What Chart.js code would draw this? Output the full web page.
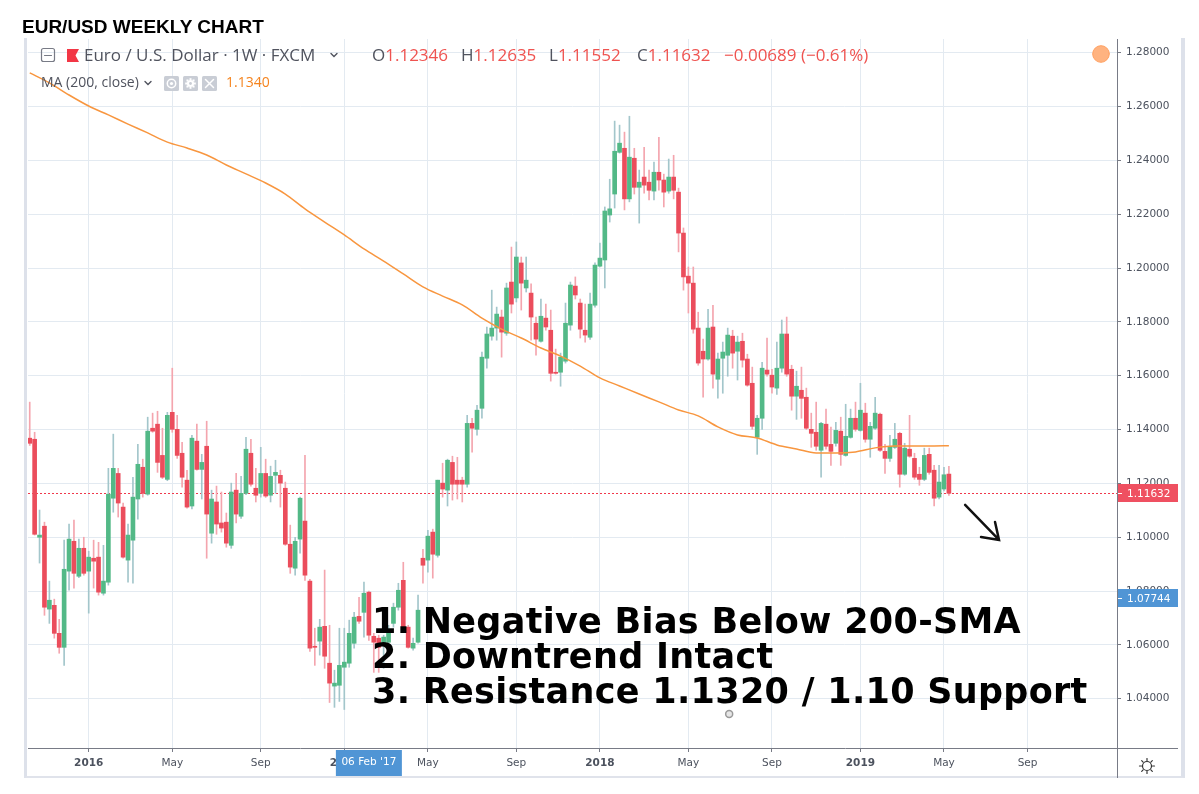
<!DOCTYPE html>
<html>
<head>
<meta charset="utf-8">
<script src="https://cdn.jsdelivr.net/npm/chart.js@4.4.0/dist/chart.umd.min.js"></script>
<style>
  body { margin: 0; width: 1199px; height: 794px; overflow: hidden; position: relative; background: #fff; }
  #frame { position: absolute; left: 24px; top: 38px; width: 1154px; height: 738px;
           border-left: 3px solid #dde1ea; border-right: 4px solid #dde1ea; border-bottom: 2px solid #e0e3eb; box-sizing: content-box; }
  #chart { position: absolute; left: 0; top: 0; }
  .t { position: absolute; white-space: pre; }
  #title { left: 22px; top: 17px; font: bold 19px/19px "Liberation Sans", Arial, sans-serif; color: #000; }
  .leg1 { top: 45px; font: 17px/20px "Open Sans", sans-serif; color: #50535e; }
  .leg2 { top: 74px; font: 14px/16px "Open Sans", sans-serif; color: #50535e; }
  .red { color: #ef5350; }
  #notes { left: 372px; top: 604px; font: bold 35px/35px "DejaVu Sans", sans-serif; color: #000; letter-spacing: 0.3px; }
</style>
</head>
<body>
<div id="frame"></div>
<canvas id="chart" width="1199" height="794"></canvas>
<div id="title" class="t">EUR/USD WEEKLY CHART</div>
<div class="t leg1" style="left:84px">Euro / U.S. Dollar · 1W · FXCM</div>
<div class="t leg1" id="lo" style="left:372px"></div>
<div class="t leg1" id="lh" style="left:461px"></div>
<div class="t leg1" id="ll" style="left:549px"></div>
<div class="t leg1" id="lc" style="left:637px"></div>
<div class="t leg1 red" id="lchg" style="left:724px"></div>
<div class="t leg2" style="left:41px">MA (200, close)</div>
<div class="t leg2" id="lma" style="left:226px;color:#f5841f"></div>
<div class="t" id="notes">1. Negative Bias Below 200-SMA
2. Downtrend Intact
3. Resistance 1.1320 / 1.10 Support</div>
<script>
// weekly EUR/USD candles, Oct 12 2015 .. May 13 2019
const opens = [
  1.1368, 1.1364, 1.1000, 1.1041, 1.0733, 1.0747, 1.0643, 1.0591, 1.0874, 1.0985,
  1.0855, 1.0959, 1.0874, 1.0922, 1.0926, 1.0792, 1.0833, 1.1145, 1.1237, 1.1112,
  1.0915, 1.0989, 1.1142, 1.1260, 1.1160, 1.1405, 1.1420, 1.1304, 1.1215, 1.1464,
  1.1401, 1.1312, 1.1212, 1.1116, 1.1357, 1.1252, 1.1338, 1.1015, 1.1131, 1.1053,
  1.1056, 1.0970, 1.1175, 1.1078, 1.1163, 1.1312, 1.1182, 1.1163, 1.1237, 1.1156,
  1.1230, 1.1230, 1.1182, 1.0974, 1.0885, 1.0993, 1.1060, 1.0837, 1.0595, 1.0614,
  1.0669, 1.0532, 1.0447, 1.0450, 1.0517, 1.0532, 1.0606, 1.0706, 1.0721, 1.0796,
  1.0632, 1.0625, 1.0606, 1.0610, 1.0680, 1.0740, 1.0840, 1.0666, 1.0588, 1.0610,
  1.0922, 1.0915, 1.1019, 1.0933, 1.1201, 1.1175, 1.1278, 1.1212, 1.1212, 1.1197,
  1.1423, 1.1401, 1.1479, 1.1665, 1.1747, 1.1777, 1.1818, 1.1758, 1.1948, 1.1889,
  1.2019, 1.1926, 1.1907, 1.1795, 1.1728, 1.1814, 1.1769, 1.1613, 1.1613, 1.1654,
  1.1788, 1.1933, 1.1870, 1.1769, 1.1743, 1.1862, 1.2007, 1.2030, 1.2197, 1.2275,
  1.2430, 1.2445, 1.2257, 1.2408, 1.2300, 1.2338, 1.2319, 1.2286, 1.2356, 1.2327,
  1.2286, 1.2338, 1.2282, 1.2130, 1.1970, 1.1944, 1.1777, 1.1691, 1.1662, 1.1781,
  1.1587, 1.1665, 1.1676, 1.1747, 1.1691, 1.1728, 1.1662, 1.1572, 1.1371, 1.1442,
  1.1621, 1.1602, 1.1554, 1.1628, 1.1755, 1.1624, 1.1524, 1.1546, 1.1520, 1.1401,
  1.1390, 1.1323, 1.1420, 1.1345, 1.1349, 1.1394, 1.1304, 1.1371, 1.1442, 1.1397,
  1.1461, 1.1364, 1.1405, 1.1457, 1.1319, 1.1293, 1.1334, 1.1386, 1.1234, 1.1327,
  1.1293, 1.1234, 1.1215, 1.1308, 1.1249, 1.1149, 1.1179, 1.12346
];
const highs = [
  1.1502, 1.1390, 1.1101, 1.1056, 1.0837, 1.0770, 1.0695, 1.0989, 1.1049, 1.1064,
  1.0993, 1.1000, 1.0948, 1.0989, 1.0981, 1.0970, 1.1256, 1.1383, 1.1256, 1.1127,
  1.1049, 1.1223, 1.1345, 1.1290, 1.1446, 1.1461, 1.1468, 1.1405, 1.1464, 1.1628,
  1.1453, 1.1353, 1.1249, 1.1379, 1.1420, 1.1308, 1.1431, 1.1175, 1.1190, 1.1168,
  1.1090, 1.1201, 1.1237, 1.1226, 1.1371, 1.1364, 1.1256, 1.1334, 1.1290, 1.1264,
  1.1286, 1.1249, 1.1205, 1.1045, 1.1000, 1.1149, 1.1304, 1.0844, 1.0662, 1.0695,
  1.0878, 1.0673, 1.0506, 1.0662, 1.0662, 1.0692, 1.0721, 1.0777, 1.0833, 1.0800,
  1.0643, 1.0636, 1.0636, 1.0673, 1.0755, 1.0829, 1.0907, 1.0673, 1.0625, 1.0785,
  1.0955, 1.1026, 1.1030, 1.1212, 1.1275, 1.1290, 1.1301, 1.1297, 1.1223, 1.1453,
  1.1442, 1.1490, 1.1688, 1.1781, 1.1918, 1.1855, 1.1844, 1.1944, 1.2078, 1.2097,
  1.2041, 1.2041, 1.1941, 1.1818, 1.1885, 1.1866, 1.1844, 1.1699, 1.1684, 1.1870,
  1.1948, 1.1967, 1.1885, 1.1866, 1.1907, 1.2019, 1.2093, 1.2227, 1.2330, 1.2546,
  1.2531, 1.2505, 1.2564, 1.2445, 1.2364, 1.2449, 1.2364, 1.2394, 1.2486, 1.2349,
  1.2405, 1.2419, 1.2297, 1.2149, 1.2004, 1.2004, 1.1836, 1.1736, 1.1847, 1.1862,
  1.1684, 1.1725, 1.1777, 1.1769, 1.1747, 1.1758, 1.1680, 1.1632, 1.1453, 1.1650,
  1.1740, 1.1624, 1.1725, 1.1807, 1.1818, 1.1639, 1.1617, 1.1632, 1.1554, 1.1461,
  1.1502, 1.1427, 1.1476, 1.1409, 1.1427, 1.1446, 1.1494, 1.1476, 1.1502, 1.1572,
  1.1498, 1.1427, 1.1520, 1.1461, 1.1345, 1.1379, 1.1423, 1.1390, 1.1349, 1.1453,
  1.1312, 1.1260, 1.1331, 1.1331, 1.1267, 1.1267, 1.1260, 1.12635
];
const lows = [
  1.1341, 1.1008, 1.0904, 1.0710, 1.0680, 1.0625, 1.0569, 1.0524, 1.0803, 1.0811,
  1.0850, 1.0859, 1.0718, 1.0811, 1.0785, 1.0785, 1.0822, 1.1093, 1.1075, 1.0922,
  1.0833, 1.0829, 1.1067, 1.1149, 1.1156, 1.1390, 1.1241, 1.1218, 1.1210, 1.1390,
  1.1293, 1.1186, 1.1108, 1.1105, 1.1249, 1.1142, 1.0922, 1.0978, 1.1011, 1.1019,
  1.0963, 1.0959, 1.1053, 1.1070, 1.1158, 1.1190, 1.1131, 1.1149, 1.1148, 1.1131,
  1.1163, 1.1112, 1.0970, 1.0866, 1.0859, 1.0941, 1.0840, 1.0576, 1.0524, 1.0562,
  1.0513, 1.0386, 1.0368, 1.0390, 1.0360, 1.0517, 1.0588, 1.0680, 1.0629, 1.0617,
  1.0498, 1.0498, 1.0513, 1.0588, 1.0666, 1.0729, 1.0654, 1.0588, 1.0580, 1.0606,
  1.0829, 1.0870, 1.0848, 1.0926, 1.1149, 1.1116, 1.1138, 1.1142, 1.1131, 1.1186,
  1.1316, 1.1379, 1.1442, 1.1628, 1.1732, 1.1732, 1.1669, 1.1750, 1.1833, 1.1874,
  1.1844, 1.1911, 1.1732, 1.1676, 1.1725, 1.1769, 1.1580, 1.1606, 1.1561, 1.1647,
  1.1769, 1.1885, 1.1740, 1.1725, 1.1735, 1.1855, 1.2004, 1.1926, 1.2171, 1.2223,
  1.2427, 1.2216, 1.2246, 1.2275, 1.2167, 1.2278, 1.2253, 1.2253, 1.2289, 1.2227,
  1.2278, 1.2257, 1.2060, 1.1918, 1.1833, 1.1758, 1.1639, 1.1520, 1.1658, 1.1554,
  1.1517, 1.1535, 1.1598, 1.1628, 1.1584, 1.1632, 1.1561, 1.1401, 1.1308, 1.1401,
  1.1598, 1.1535, 1.1531, 1.1613, 1.1598, 1.1472, 1.1438, 1.1442, 1.1400, 1.1334,
  1.1323, 1.1223, 1.1327, 1.1267, 1.1338, 1.1267, 1.1301, 1.1368, 1.1394, 1.1394,
  1.1353, 1.1297, 1.1401, 1.1319, 1.1237, 1.1282, 1.1330, 1.1186, 1.1230, 1.1297,
  1.1215, 1.1193, 1.1210, 1.1234, 1.1116, 1.1142, 1.1172, 1.11552
];
const closes = [
  1.1349, 1.1011, 1.1008, 1.0740, 1.0766, 1.0643, 1.0591, 1.0881, 1.0993, 1.0866,
  1.0959, 1.0866, 1.0926, 1.0911, 1.0796, 1.0837, 1.1160, 1.1256, 1.1127, 1.0926,
  1.1008, 1.1149, 1.1271, 1.1163, 1.1394, 1.1394, 1.1278, 1.1223, 1.1453, 1.1401,
  1.1304, 1.1223, 1.1112, 1.1368, 1.1252, 1.1278, 1.1086, 1.1142, 1.1049, 1.1034,
  1.0978, 1.1168, 1.1086, 1.1163, 1.1327, 1.1197, 1.1156, 1.1237, 1.1153, 1.1226,
  1.1241, 1.1201, 1.0974, 1.0889, 1.0985, 1.1145, 1.0859, 1.0588, 1.0591, 1.0666,
  1.0558, 1.0458, 1.0458, 1.0524, 1.0536, 1.0643, 1.0703, 1.0688, 1.0792, 1.0636,
  1.0610, 1.0591, 1.0629, 1.0643, 1.0740, 1.0803, 1.0666, 1.0591, 1.0606, 1.0729,
  1.0896, 1.1004, 1.0937, 1.1212, 1.1179, 1.1286, 1.1197, 1.1197, 1.1197, 1.1423,
  1.1405, 1.1472, 1.1669, 1.1755, 1.1777, 1.1829, 1.1762, 1.1926, 1.1866, 1.2041,
  1.1944, 1.1955, 1.1818, 1.1736, 1.1821, 1.1781, 1.1609, 1.1609, 1.1669, 1.1795,
  1.1937, 1.1900, 1.1773, 1.1751, 1.1866, 1.2011, 1.2037, 1.2212, 1.2220, 1.2434,
  1.2464, 1.2257, 1.2412, 1.2300, 1.2319, 1.2308, 1.2289, 1.2356, 1.2327, 1.2282,
  1.2338, 1.2289, 1.2130, 1.1967, 1.1944, 1.1773, 1.1647, 1.1662, 1.1777, 1.1606,
  1.1662, 1.1688, 1.1751, 1.1684, 1.1725, 1.1658, 1.1565, 1.1412, 1.1442, 1.1628,
  1.1606, 1.1558, 1.1628, 1.1755, 1.1606, 1.1524, 1.1561, 1.1516, 1.1405, 1.1386,
  1.1338, 1.1423, 1.1338, 1.1319, 1.1397, 1.1308, 1.1375, 1.1442, 1.1401, 1.1472,
  1.1364, 1.1412, 1.1461, 1.1323, 1.1293, 1.1338, 1.1364, 1.1234, 1.1331, 1.1301,
  1.1223, 1.1215, 1.1304, 1.1241, 1.1145, 1.1205, 1.12321, 1.11632
];

const maWeeks = [0, 4, 8, 12, 16, 20, 24, 28, 32, 36, 40, 44, 48, 52, 56, 60, 64, 68, 72, 76, 80, 84, 88, 92,
  96, 100, 104, 108, 112, 116, 120, 124, 128, 132, 136, 140, 144, 148, 152, 156, 160, 164, 168, 172, 176, 180, 184, 187];
const maValues = [1.2725, 1.2688, 1.2643, 1.2602, 1.2569, 1.2535, 1.2502, 1.2468, 1.2446, 1.2420, 1.2383, 1.2350,
  1.2316, 1.2275, 1.2220, 1.2171, 1.2123, 1.2071, 1.2026, 1.1978, 1.1930, 1.1896, 1.1863, 1.1814,
  1.1773, 1.1740, 1.1703, 1.1673, 1.1636, 1.1592, 1.1562, 1.1532, 1.1503, 1.1473, 1.1451, 1.1410,
  1.1380, 1.1369, 1.1343, 1.1328, 1.1313, 1.1313, 1.1317, 1.1332, 1.1339, 1.1339, 1.1339, 1.1340];

// time axis: week index of first bar of the month
const tickWeeks = [12, 29, 47, 64, 81, 99, 116, 134, 151, 169, 186, 203];
const tickLabels = ['2016', 'May', 'Sep', '2017', 'May', 'Sep', '2018', 'May', 'Sep', '2019', 'May', 'Sep'];
const priceTicks = [1.04, 1.06, 1.08, 1.10, 1.12, 1.14, 1.16, 1.18, 1.20, 1.22, 1.24, 1.26, 1.28];

// crosshair readout
const crossWeek = 69;
const crossLabel = "06 Feb '17";
const crossPrice = 1.07744;

// drawn arrow (week, price)
const arrowFrom = [190.3, 1.1120];
const arrowTo = [197.2, 1.0990];
const cursorDot = [142.3, 1.0343];

const UP = '#53b987', DOWN = '#eb4d5c', UP_WICK = '#a3c6cb', DOWN_WICK = '#f4a5ae';
const isUp = closes.map((c, i) => c >= opens[i]);
const last = closes.length - 1;

// legend text from the data
const f5 = v => v.toFixed(5);
document.getElementById('lo').innerHTML = 'O<span class="red">' + f5(opens[last]) + '</span>';
document.getElementById('lh').innerHTML = 'H<span class="red">' + f5(highs[last]) + '</span>';
document.getElementById('ll').innerHTML = 'L<span class="red">' + f5(lows[last]) + '</span>';
document.getElementById('lc').innerHTML = 'C<span class="red">' + f5(closes[last]) + '</span>';
const chg = closes[last] - closes[last - 1];
const sign = chg < 0 ? '\u2212' : '+';
document.getElementById('lchg').textContent = sign + Math.abs(chg).toFixed(5) + ' (' + sign + Math.abs(chg / closes[last - 1] * 100).toFixed(2) + '%)';
document.getElementById('lma').textContent = maValues[maValues.length - 1].toFixed(4);

const overlay = {
  id: 'overlay',
  beforeDatasetsDraw(chart) {
    const {ctx, chartArea: a, scales: {y}} = chart;
    const py = Math.round(y.getPixelForValue(closes[last])) + 0.5;
    ctx.save();
    ctx.strokeStyle = '#f0384b';
    ctx.lineWidth = 1;
    ctx.setLineDash([2, 2]);
    ctx.beginPath();
    ctx.moveTo(a.left, py);
    ctx.lineTo(a.right, py);
    ctx.stroke();
    ctx.restore();
  },
  afterDraw(chart) {
    const {ctx, chartArea: a, scales: {x, y}} = chart;
    ctx.save();

    // axis lines running into the corner box
    ctx.strokeStyle = '#787b86';
    ctx.lineWidth = 1;
    ctx.beginPath();
    ctx.moveTo(a.right + 0.5, a.bottom);
    ctx.lineTo(a.right + 0.5, 778);
    ctx.moveTo(a.right, a.bottom + 0.5);
    ctx.lineTo(1178, a.bottom + 0.5);
    ctx.stroke();

    // price labels on the axis
    const priceBox = (val, bg) => {
      const py = Math.round(y.getPixelForValue(val));
      ctx.fillStyle = bg;
      ctx.fillRect(a.right + 1, py - 9, 60, 18);
      ctx.strokeStyle = '#fff';
      ctx.beginPath();
      ctx.moveTo(a.right + 1, py + 0.5);
      ctx.lineTo(a.right + 5, py + 0.5);
      ctx.stroke();
      ctx.fillStyle = '#fff';
      ctx.font = '10.5px "DejaVu Sans"';
      ctx.textBaseline = 'middle';
      ctx.textAlign = 'left';
      ctx.fillText(f5(val), a.right + 10, py + 1);
    };
    priceBox(closes[last], '#ef5061');
    priceBox(crossPrice, '#5095d5');

    // time label
    const cx = x.getPixelForValue(crossWeek);
    ctx.fillStyle = '#5095d5';
    ctx.fillRect(cx - 33, 750, 66, 26);
    ctx.fillStyle = '#fff';
    ctx.font = '10.5px "DejaVu Sans"';
    ctx.textAlign = 'center';
    ctx.textBaseline = 'middle';
    ctx.fillText(crossLabel, cx, 762);

    // arrow
    const ax0 = x.getPixelForValue(arrowFrom[0]), ay0 = y.getPixelForValue(arrowFrom[1]);
    const ax1 = x.getPixelForValue(arrowTo[0]), ay1 = y.getPixelForValue(arrowTo[1]);
    ctx.strokeStyle = '#111';
    ctx.lineWidth = 2.5;
    ctx.lineCap = 'round';
    ctx.beginPath();
    ctx.moveTo(ax0, ay0);
    ctx.lineTo(ax1, ay1);
    ctx.moveTo(ax1 - 18, ay1 - 3);
    ctx.lineTo(ax1, ay1);
    ctx.lineTo(ax1 - 4, ay1 - 18);
    ctx.stroke();

    // cursor ring
    ctx.lineWidth = 1.5;
    ctx.strokeStyle = '#9a9a9a';
    ctx.fillStyle = '#e6e6e6';
    ctx.beginPath();
    ctx.arc(x.getPixelForValue(cursorDot[0]), y.getPixelForValue(cursorDot[1]), 3.5, 0, Math.PI * 2);
    ctx.fill();
    ctx.stroke();

    // orange dot at top right
    ctx.fillStyle = '#ffb380';
    ctx.strokeStyle = '#ffa060';
    ctx.lineWidth = 1;
    ctx.beginPath();
    ctx.arc(a.right - 16, a.top + 15, 8.3, 0, Math.PI * 2);
    ctx.fill();
    ctx.stroke();

    // settings sun icon
    ctx.strokeStyle = '#333';
    ctx.lineWidth = 1.2;
    ctx.beginPath();
    ctx.arc(1147, 766, 4.5, 0, Math.PI * 2);
    ctx.stroke();
    for (let k = 0; k < 8; k++) {
      const ang = k * Math.PI / 4;
      ctx.beginPath();
      ctx.moveTo(1147 + Math.cos(ang) * 5.5, 766 + Math.sin(ang) * 5.5);
      ctx.lineTo(1147 + Math.cos(ang) * 7.5, 766 + Math.sin(ang) * 7.5);
      ctx.stroke();
    }

    // legend icons
    ctx.strokeStyle = '#787b86';
    ctx.lineWidth = 1.2;
    ctx.beginPath();
    ctx.roundRect(41.5, 48.5, 13, 13, 2);
    ctx.moveTo(44.5, 55.5);
    ctx.lineTo(51.5, 55.5);
    ctx.stroke();
    ctx.fillStyle = '#f23645';
    ctx.beginPath();
    ctx.moveTo(67, 49);
    ctx.lineTo(79, 49);
    ctx.lineTo(75.5, 55.5);
    ctx.lineTo(79, 62);
    ctx.lineTo(67, 62);
    ctx.closePath();
    ctx.fill();
    // chevrons
    ctx.strokeStyle = '#50535e';
    ctx.lineWidth = 1.4;
    ctx.beginPath();
    ctx.moveTo(331, 53.5); ctx.lineTo(334, 56.5); ctx.lineTo(337, 53.5);
    ctx.moveTo(145, 81.5); ctx.lineTo(148, 84.5); ctx.lineTo(151, 81.5);
    ctx.stroke();
    // MA study buttons
    [164, 183, 202].forEach((bx, k) => {
      ctx.fillStyle = '#c9cdd5';
      ctx.beginPath();
      ctx.roundRect(bx, 76, 15, 15, 1.5);
      ctx.fill();
      ctx.strokeStyle = '#fff';
      ctx.fillStyle = '#fff';
      ctx.lineWidth = 1.5;
      const mx = bx + 7.5, my = 83.5;
      ctx.beginPath();
      if (k === 0) {
        ctx.arc(mx, my, 4.2, 0, Math.PI * 2);
        ctx.stroke();
        ctx.beginPath();
        ctx.arc(mx, my, 1.6, 0, Math.PI * 2);
        ctx.fill();
      } else if (k === 1) {
        ctx.arc(mx, my, 3.6, 0, Math.PI * 2);
        ctx.fill();
        for (let t = 0; t < 8; t++) {
          const ang = t * Math.PI / 4;
          ctx.fillRect(mx + Math.cos(ang) * 4.3 - 1, my + Math.sin(ang) * 4.3 - 1, 2, 2);
        }
        ctx.fillStyle = '#c9cdd5';
        ctx.beginPath();
        ctx.arc(mx, my, 1.4, 0, Math.PI * 2);
        ctx.fill();
      } else {
        ctx.moveTo(mx - 4, my - 4); ctx.lineTo(mx + 4, my + 4);
        ctx.moveTo(mx + 4, my - 4); ctx.lineTo(mx - 4, my + 4);
        ctx.stroke();
      }
    });
    ctx.restore();
  }
};

const idx = closes.map((c, i) => i);

new Chart(document.getElementById('chart'), {
  type: 'bar',
  data: {
    datasets: [
      {
        type: 'line',
        label: 'MA (200, close)',
        data: maWeeks.map((w, i) => ({x: w, y: maValues[i]})),
        borderColor: '#f8963f',
        borderWidth: 1.5,
        pointRadius: 0,
        cubicInterpolationMode: 'monotone',
        order: 0
      },
      {
        label: 'body',
        data: idx.map(i => ({x: i, y: [opens[i], closes[i]]})),
        backgroundColor: isUp.map(u => u ? UP : DOWN),
        barThickness: 4,
        minBarLength: 1,
        grouped: false,
        order: 1
      },
      {
        label: 'wick',
        data: idx.map(i => ({x: i, y: [lows[i], highs[i]]})),
        backgroundColor: isUp.map(u => u ? UP_WICK : DOWN_WICK),
        barThickness: 1,
        grouped: false,
        order: 2
      }
    ]
  },
  options: {
    responsive: false,
    animation: false,
    devicePixelRatio: 1,
    layout: {padding: {left: 28, right: 19, top: 39, bottom: 16}},
    plugins: {legend: {display: false}, tooltip: {enabled: false}},
    scales: {
      x: {
        type: 'linear',
        min: -0.35,
        max: 221.2,
        offset: false,
        grid: {color: '#e3eaf1', offset: false, tickLength: 4, tickColor: '#787b86'},
        border: {color: '#787b86'},
        afterBuildTicks: s => { s.ticks = tickWeeks.map(v => ({value: v})); },
        afterFit: s => { s.height = 30; },
        ticks: {
          autoSkip: false,
          maxRotation: 0,
          padding: 5,
          color: '#4c525e',
          font: c => ({family: 'DejaVu Sans', size: 10.5, weight: /^\d{4}$/.test(tickLabels[c.index]) ? 'bold' : 'normal'}),
          callback: (v, i) => tickLabels[i]
        }
      },
      y: {
        position: 'right',
        min: 1.0217,
        max: 1.2851,
        grid: {color: '#e3eaf1', tickLength: 4, tickColor: '#787b86'},
        border: {color: '#787b86'},
        afterBuildTicks: s => { s.ticks = priceTicks.map(v => ({value: v})); },
        afterFit: s => { s.width = 63; },
        ticks: {
          padding: 5,
          color: '#4c525e',
          font: {family: 'DejaVu Sans', size: 10.5},
          callback: v => v.toFixed(5)
        }
      }
    }
  },
  plugins: [overlay]
});
</script>
</body>
</html>
